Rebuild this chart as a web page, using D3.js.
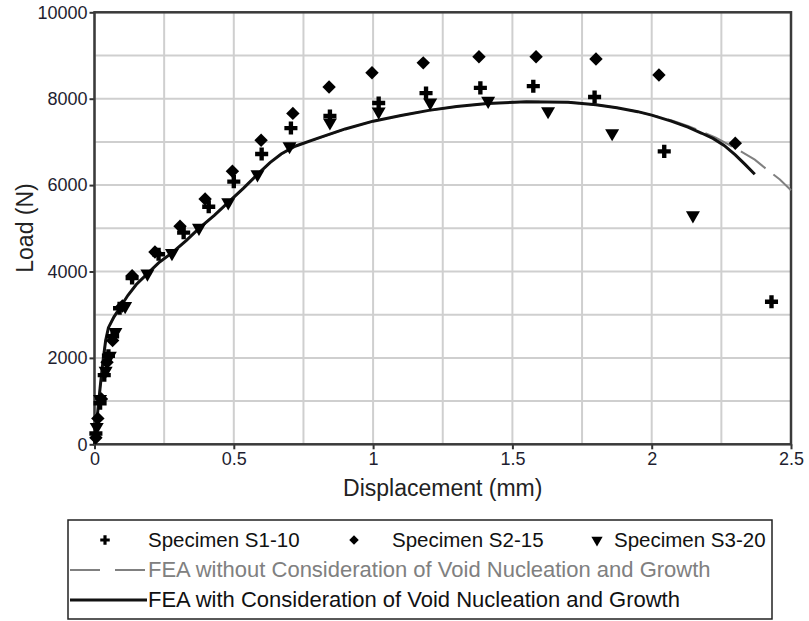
<!DOCTYPE html>
<html lang="en">
  <head>
    <meta charset="utf-8">
    <title>Load vs Displacement</title>
    <script src="https://d3js.org/d3.v7.js"></script>
    <style>
      html, body { margin: 0; padding: 0; background: white; overflow: hidden; }
      svg { display: block; }
      text { font-family: "Liberation Sans", Arial, sans-serif; }
    </style>
  </head>

  <body>

  <script>

// data: [displacement (mm), load (N)]

  const s1 = [[0.005,250],[0.02,950],[0.035,1600],[0.05,2050],[0.065,2500],[0.09,3150],
    [0.135,3850],[0.23,4400],[0.32,4900],[0.41,5500],[0.5,6080],[0.6,6720],[0.705,7320],
    [0.845,7600],[1.02,7900],[1.19,8130],[1.385,8250],[1.575,8290],[1.795,8040],
    [2.045,6780],[2.43,3300]];

  const s2 = [[0.005,150],[0.012,600],[0.025,1050],[0.045,1900],[0.065,2400],[0.1,3200],
    [0.135,3900],[0.217,4450],[0.307,5050],[0.397,5680],[0.495,6320],[0.598,7040],
    [0.712,7660],[0.842,8270],[0.996,8600],[1.18,8830],[1.38,8970],[1.585,8970],
    [1.8,8920],[2.026,8550],[2.3,6970]];

  const s3 = [[0.008,400],[0.02,1050],[0.04,1700],[0.055,2050],[0.075,2600],[0.11,3200],
    [0.19,3950],[0.278,4425],[0.375,5010],[0.48,5600],[0.585,6250],[0.7,6900],
    [0.845,7450],[1.02,7700],[1.205,7910],[1.413,7950],[1.628,7710],[1.858,7200],
    [2.148,5300]];

  const feaVoid = [[0,0],[0.01,650],[0.02,1300],[0.03,1900],[0.04,2400],[0.05,2700],
    [0.07,2950],[0.09,3150],[0.12,3450],[0.15,3700],[0.19,3950],[0.23,4200],[0.278,4430],
    [0.33,4720],[0.375,5000],[0.43,5300],[0.48,5600],[0.535,5930],[0.585,6250],[0.63,6520],
    [0.67,6720],[0.72,6900],[0.8,7080],[0.9,7300],[1.0,7480],[1.1,7610],[1.2,7730],
    [1.3,7820],[1.41,7890],[1.55,7930],[1.7,7920],[1.8,7860],[1.875,7790],[1.95,7700],
    [2.0,7620],[2.07,7480],[2.13,7340],[2.18,7200],[2.22,7080],[2.26,6920],[2.3,6700],
    [2.335,6480],[2.37,6250]];

  const feaNoVoid = [[0,0],[0.01,650],[0.02,1300],[0.03,1900],[0.04,2400],[0.05,2700],
    [0.07,2950],[0.09,3150],[0.12,3450],[0.15,3700],[0.19,3950],[0.23,4200],[0.278,4430],
    [0.33,4720],[0.375,5000],[0.43,5300],[0.48,5600],[0.535,5930],[0.585,6250],[0.63,6520],
    [0.67,6720],[0.72,6900],[0.8,7080],[0.9,7300],[1.0,7480],[1.1,7610],[1.2,7730],
    [1.3,7820],[1.41,7890],[1.55,7930],[1.7,7920],[1.8,7860],[1.875,7790],[1.95,7700],
    [2.0,7620],[2.07,7500],[2.13,7370],[2.18,7240],[2.23,7100],[2.27,6960],[2.32,6780],
    [2.37,6590],[2.41,6380],[2.46,6130],[2.5,5880]];

  const xTicks = [0, 0.5, 1, 1.5, 2, 2.5];
  const yTicks = [0, 2000, 4000, 6000, 8000, 10000];
  const xGrid = d3.range(0, 2.5001, 0.25);
  const yGrid = d3.range(0, 10001, 1000);

  const legendLabels = ["Specimen S1-10", "Specimen S2-15", "Specimen S3-20",
    "FEA without Consideration of Void Nucleation and Growth",
    "FEA with Consideration of Void Nucleation and Growth"];

// sizes

  const w = 809;
  const h = 621;
  const margin = {top: 12.3, right: 18, bottom: 176.7, left: 94.5};
  const innerWidth = w - margin.left - margin.right;
  const innerHeight = h - margin.top - margin.bottom;

  const xScale = d3.scaleLinear()
      .domain([0, 2.5])
      .range([0, innerWidth]);

  const yScale = d3.scaleLinear()
      .domain([0, 10000])
      .range([innerHeight, 0]);

  const svg = d3.select("body")
    .append("svg")
      .attr("width", w)
      .attr("height", h);

  svg.append("rect")
      .attr("width", w)
      .attr("height", h)
      .attr("fill", "white");

  const g = svg.append("g")
      .attr("transform", `translate(${margin.left}, ${margin.top})`);

// grid

  g.selectAll("line.vgrid")
    .data(xGrid)
    .enter().append("line")
      .attr("class", "vgrid")
      .attr("x1", d => xScale(d))
      .attr("x2", d => xScale(d))
      .attr("y1", 0)
      .attr("y2", innerHeight)
      .attr("stroke", "#cfcfcf")
      .attr("stroke-width", 2);

  g.selectAll("line.hgrid")
    .data(yGrid)
    .enter().append("line")
      .attr("class", "hgrid")
      .attr("x1", 0)
      .attr("x2", innerWidth)
      .attr("y1", d => yScale(d))
      .attr("y2", d => yScale(d))
      .attr("stroke", "#cfcfcf")
      .attr("stroke-width", 2);

// axes

  const xAxis = d3.axisBottom(xScale)
      .tickValues(xTicks)
      .tickFormat(d3.format("~g"))
      .tickSize(5)
      .tickPadding(3);

  const yAxis = d3.axisLeft(yScale)
      .tickValues(yTicks)
      .tickFormat(d3.format("d"))
      .tickSize(5)
      .tickPadding(2);

  const xg = g.append("g")
      .attr("transform", `translate(0, ${innerHeight})`)
      .call(xAxis);

  const yg = g.append("g")
      .call(yAxis);

  [xg, yg].forEach(a => {
    a.select(".domain").remove();
    a.selectAll(".tick line").attr("stroke", "#333").attr("stroke-width", 2);
    a.selectAll(".tick text")
      .attr("fill", "#1e1e30")
      .style("font-size", "18px")
      .style("font-family", "'Liberation Sans', Arial, sans-serif");
  });

// frame

  g.append("rect")
      .attr("x", 0)
      .attr("y", 0)
      .attr("width", innerWidth)
      .attr("height", innerHeight)
      .attr("fill", "none")
      .attr("stroke", "#3a3a3a")
      .attr("stroke-width", 2.5);

// FEA curves

  const line = d3.line()
      .x(d => xScale(d[0]))
      .y(d => yScale(d[1]));

  g.append("path")
      .datum(feaNoVoid)
      .attr("d", line)
      .attr("fill", "none")
      .attr("stroke", "#808080")
      .attr("stroke-width", 2)
      .attr("stroke-dasharray", "30,10");

  g.append("path")
      .datum(feaVoid)
      .attr("d", line)
      .attr("fill", "none")
      .attr("stroke", "#111")
      .attr("stroke-width", 3);

// specimen points

  const cross = d3.symbol().type(d3.symbolCross).size(95);
  const diamond = d3.symbol().type(d3.symbolSquare).size(90);
  const triangle = d3.symbol().type(d3.symbolTriangle).size(85);

  g.selectAll("path.s1")
    .data(s1)
    .enter().append("path")
      .attr("class", "s1")
      .attr("d", cross)
      .attr("transform", d => `translate(${xScale(d[0])}, ${yScale(d[1])})`)
      .attr("fill", "#000");

  g.selectAll("path.s2")
    .data(s2)
    .enter().append("path")
      .attr("class", "s2")
      .attr("d", diamond)
      .attr("transform", d => `translate(${xScale(d[0])}, ${yScale(d[1])}) rotate(45)`)
      .attr("fill", "#000");

  g.selectAll("path.s3")
    .data(s3)
    .enter().append("path")
      .attr("class", "s3")
      .attr("d", triangle)
      .attr("transform", d => `translate(${xScale(d[0])}, ${yScale(d[1])}) rotate(180)`)
      .attr("fill", "#000");

// axis labels

  svg.append("text")
      .attr("text-anchor", "middle")
      .attr("x", margin.left + innerWidth / 2)
      .attr("y", 496)
      .attr("fill", "#222")
      .style("font-size", "23px")
      .text("Displacement (mm)");

  svg.append("text")
      .attr("text-anchor", "middle")
      .attr("transform", "translate(33, 228) rotate(-90)")
      .attr("fill", "#222")
      .style("font-size", "23px")
      .text("Load (N)");

// legend

  const legend = svg.append("g");

  legend.append("rect")
      .attr("x", 68)
      .attr("y", 520)
      .attr("width", 704)
      .attr("height", 99)
      .attr("fill", "white")
      .attr("stroke", "#222")
      .attr("stroke-width", 1.5);

  const legendItems = [
    {sym: d3.symbol().type(d3.symbolCross).size(50), rot: 0, x: 105},
    {sym: d3.symbol().type(d3.symbolSquare).size(45), rot: 45, x: 354},
    {sym: d3.symbol().type(d3.symbolTriangle).size(55), rot: 180, x: 597}
  ];
  const legendTextX = [148, 392, 614];

  legendItems.forEach((it, i) => {
    legend.append("path")
        .attr("d", it.sym)
        .attr("transform", `translate(${it.x}, 540) rotate(${it.rot})`)
        .attr("fill", "#000");
    legend.append("text")
        .attr("x", legendTextX[i])
        .attr("y", 547)
        .attr("fill", "#111")
        .style("font-size", "20.5px")
        .text(legendLabels[i]);
  });

  legend.append("line")
      .attr("x1", 70).attr("x2", 147)
      .attr("y1", 570).attr("y2", 570)
      .attr("stroke", "#808080")
      .attr("stroke-width", 2)
      .attr("stroke-dasharray", "30,15");

  legend.append("text")
      .attr("x", 148)
      .attr("y", 577)
      .attr("fill", "#808080")
      .style("font-size", "22px")
      .text(legendLabels[3]);

  legend.append("line")
      .attr("x1", 70).attr("x2", 147)
      .attr("y1", 600).attr("y2", 600)
      .attr("stroke", "#111")
      .attr("stroke-width", 3);

  legend.append("text")
      .attr("x", 148)
      .attr("y", 607)
      .attr("fill", "#111")
      .style("font-size", "22px")
      .text(legendLabels[4]);

    </script>

  </body>

</html>
